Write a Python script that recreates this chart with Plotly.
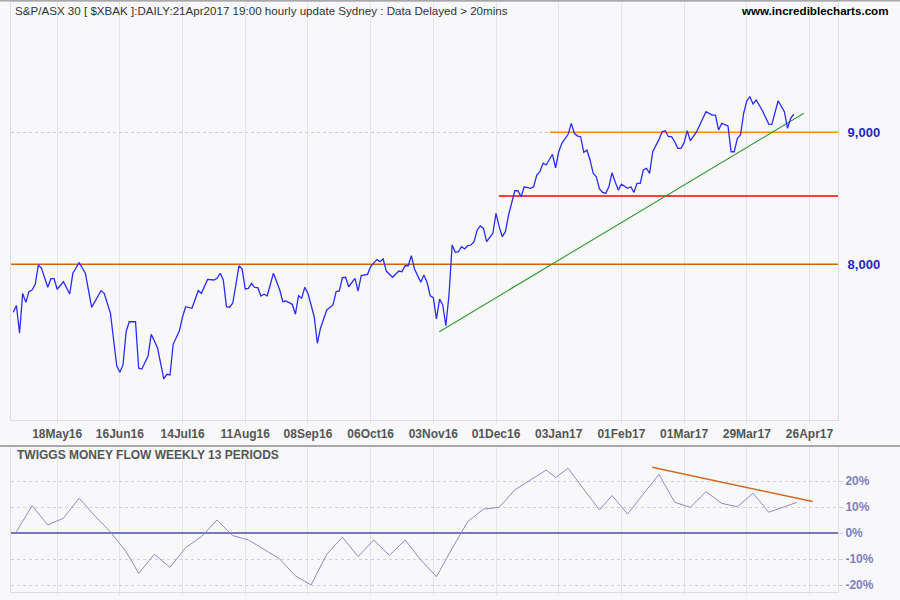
import plotly.graph_objects as go

# ---------------- data (trading-day index from 28 Apr 2016) ----------------
price_day = [0,1,2,3,4,5,6,7,8,9,11,12,13,14,16,18,19,21,23,25,28,29,31,33,34,35,36,37,39,40,
             41,43,44,46,48,49,50,51,53,54,55,57,59,60,62,64,65,66,67,68,69,70,71,72,73,74,75,76,77,78,
             79,80,81,83,85,86,87,89,90,91,92,93,94,96,97,98,100,102,103,104,105,106,107,109,110,111,113,114,116,117,
             118,119,121,123,124,125,126,127,128,130,131,132,133,134,135,136,137,138,139,140,141,142,143,144,145,146,147,148,149,150,
             151,153,154,155,156,157,158,160,161,162,163,165,166,167,168,169,170,171,172,173,174,175,176,177,178,179,180,181,182,183,
             184,185,186,187,188,189,190,191,192,193,194,196,197,198,199,200,201,202,203,204,206,207,208,209,210,211,212,213,214,215,
             216,218,219,221,223,224,225,226,228,229,230,231,232,233,234,235,236,237,239,241,242,243,244,246,247,248,249]
price_close = [7637,7687,7478,7780,7712,7793,7805,7849,7995,7970,7826,7891,7891,7811,7868,7775,7932,8012,7932,7674,7800,7780,7629,7232,7182,7238,7490,7565,7565,7213,
               7207,7306,7470,7369,7132,7167,7162,7394,7497,7603,7679,7667,7800,7780,7886,7881,7894,7932,7881,7679,7675,7705,7843,7989,7964,7813,7818,7856,7826,7823,
               7760,7773,7762,7932,7805,7717,7722,7697,7622,7762,7743,7826,7780,7603,7402,7516,7654,7692,7793,7798,7899,7902,7830,7894,7798,7914,7924,7982,8035,8020,
               8040,7949,7902,7949,7944,7989,7989,8065,7964,7864,7919,7864,7762,7747,7586,7737,7692,7535,7768,8146,8091,8095,8133,8116,8141,8146,8171,8260,8290,8272,
               8171,8235,8386,8285,8209,8247,8373,8557,8557,8512,8587,8575,8587,8676,8701,8765,8752,8790,8833,8731,8852,8916,8949,8984,9067,8992,8971,8966,8848,8865,
               8790,8689,8663,8570,8545,8537,8587,8693,8625,8562,8606,8575,8587,8545,8613,8613,8714,8727,8689,8852,8946,9004,9011,8966,8966,8928,8878,8878,8921,9011,
               8936,9004,9055,9155,9130,9130,9017,9067,9047,8852,8852,8954,8979,9143,9238,9269,9213,9244,9163,9062,9060,9148,9238,9155,9030,9105,9136]

tmf_day = [1,6,11,16,21,26,31,36,40,45,50,55,60,65,70,75,80,85,90,95,100,105,110,115,120,125,130,135,140,
           145,150,155,160,165,170,173,177,182,187,191,196,201,206,211,216,221,226,231,236,241,246,250]
tmf_value = [0.6,10.6,3.2,5.8,13.5,6.7,0.5,-7.1,-15.4,-8.1,-13.1,-5.5,-1.3,5.1,-0.9,-2.6,-6.2,-9.9,-16.4,-19.9,
             -8.1,-1.5,-9.0,-2.6,-8.5,-2.6,-10.3,-16.7,-5.8,4.5,9.3,10.0,16.7,20.5,24.3,21.5,25.0,16.9,9.0,14.5,
             7.4,15.1,22.7,11.9,10.0,16.0,11.5,10.2,15.4,8.1,10.2,11.9]

tick_days = [14,34,54,74,94,114,134,154,174,194,214,234,254]
tick_labels = ["18May16","16Jun16","14Jul16","11Aug16","08Sep16","06Oct16","03Nov16",
               "01Dec16","03Jan17","01Feb17","01Mar17","29Mar17","26Apr17"]

level_8000_x = [-0.73, 263.1]; level_8000_y = [8000, 8000]
level_9000_x = [171.2, 263.1]; level_9000_y = [9000, 9000]
support_x = [154.9, 263.1]; support_y = [8517, 8517]
trend_x = [135.9, 252.2]; trend_y = [7490, 9143]
tmf_trend_x = [203.8, 255.0]; tmf_trend_y = [25.4, 12.2]

price_ticks = [8000, 9000]
tmf_ticks = [-20, -10, 0, 10, 20]
tmf_tick_text = ["-20%", "-10%", "0%", "10%", "20%"]

title_text = "S&P/ASX 30 [ $XBAK ]:DAILY:21Apr2017 19:00 hourly update Sydney : Data Delayed > 20mins"
site_text = "www.incrediblecharts.com"
tmf_title = "TWIGGS MONEY FLOW WEEKLY 13 PERIODS"

# ---------------- figure ----------------
FONT = "Liberation Sans, Arial, sans-serif"
BG = "#F8F8FA"
GRID = "#E6E6EA"

fig = go.Figure()
fig.add_trace(go.Scatter(x=level_8000_x, y=level_8000_y, mode="lines",
                         line=dict(color="#CC6600", width=1.5), xaxis="x", yaxis="y", hoverinfo="skip"))
fig.add_trace(go.Scatter(x=level_9000_x, y=level_9000_y, mode="lines",
                         line=dict(color="#FF8C00", width=1.5), xaxis="x", yaxis="y", hoverinfo="skip"))
fig.add_trace(go.Scatter(x=support_x, y=support_y, mode="lines",
                         line=dict(color="#FF0000", width=1.5), xaxis="x", yaxis="y", hoverinfo="skip"))
fig.add_trace(go.Scatter(x=trend_x, y=trend_y, mode="lines",
                         line=dict(color="#2E9A2E", width=1.1), xaxis="x", yaxis="y", hoverinfo="skip"))
fig.add_trace(go.Scatter(x=price_day, y=price_close, mode="lines",
                         line=dict(color="#2B2BFF", width=1.3), xaxis="x", yaxis="y"))

fig.add_trace(go.Scatter(x=tmf_day, y=tmf_value, mode="lines",
                         line=dict(color="#8C8CCC", width=1), xaxis="x2", yaxis="y2"))
fig.add_trace(go.Scatter(x=tmf_trend_x, y=tmf_trend_y, mode="lines",
                         line=dict(color="#D2691E", width=1.5), xaxis="x2", yaxis="y2", hoverinfo="skip"))

xr = [-0.73, 263.1]
common_x = dict(range=xr, tickvals=tick_days, showgrid=True, gridcolor=GRID, gridwidth=1,
                zeroline=False, showline=True, linecolor="#DDDDE2", mirror=True,
                ticks="outside", ticklen=3, tickcolor=GRID)

fig.update_layout(
    width=900, height=600,
    margin=dict(l=11, r=62, t=2, b=8),
    paper_bgcolor=BG, plot_bgcolor=BG,
    showlegend=False,
    font=dict(family=FONT, size=12, color="#555555"),
    xaxis=dict(domain=[0, 1], anchor="y", ticktext=tick_labels,
               tickfont=dict(family=FONT, size=12, color="#555555", weight="bold"), **common_x),
    yaxis=dict(domain=[0.2915, 1.0], anchor="x", side="right", range=[6821, 9986],
               tickvals=price_ticks, tickformat=",d", showgrid=True, gridcolor="#CDCDD5",
               griddash="dot", zeroline=False, showline=True, linecolor="#DDDDE2", mirror=True,
               ticks="", ticklabelstandoff=6,
               tickfont=dict(family=FONT, size=13, color="#2525C8", weight="bold")),
    xaxis2=dict(domain=[0, 1], anchor="y2", showticklabels=False, **common_x),
    yaxis2=dict(domain=[0, 0.2458], anchor="x2", side="right", range=[-22.6, 33.2],
                tickvals=tmf_ticks, ticktext=tmf_tick_text, showgrid=True, gridcolor="#D0D0D8",
                griddash="dot", zeroline=True, zerolinecolor="#7777BB", zerolinewidth=1.5,
                showline=True, linecolor="#DDDDE2", mirror=True, ticks="outside", ticklen=4,
                tickcolor="#D0D0D8",
                tickfont=dict(family=FONT, size=12, color="#7F7FBF", weight="bold")),
)

# panel separator and top border
fig.add_shape(type="line", xref="paper", yref="paper", x0=-11/827, x1=1+62/827,
              y0=(592-446)/590, y1=(592-446)/590, line=dict(color="#A8A8A8", width=2))
fig.add_shape(type="line", xref="paper", yref="paper", x0=-11/827, x1=1+62/827,
              y0=1.0+1.5/590, y1=1.0+1.5/590, line=dict(color="#A8A8A8", width=2))

fig.add_annotation(text=title_text, xref="paper", yref="paper", x=2/827, y=(592-10)/590,
                   xanchor="left", yanchor="middle", showarrow=False,
                   font=dict(family=FONT, size=11.6, color="#333333"))
fig.add_annotation(text=site_text, xref="paper", yref="paper", x=(890-11)/827, y=(592-10)/590,
                   xanchor="right", yanchor="middle", showarrow=False,
                   font=dict(family=FONT, size=11.6, color="#000000", weight="bold"))
fig.add_annotation(text=tmf_title, xref="paper", yref="paper", x=4/827, y=(592-455)/590,
                   xanchor="left", yanchor="middle", showarrow=False,
                   font=dict(family=FONT, size=12, color="#555555", weight="bold"))

fig.write_html("out.html")
